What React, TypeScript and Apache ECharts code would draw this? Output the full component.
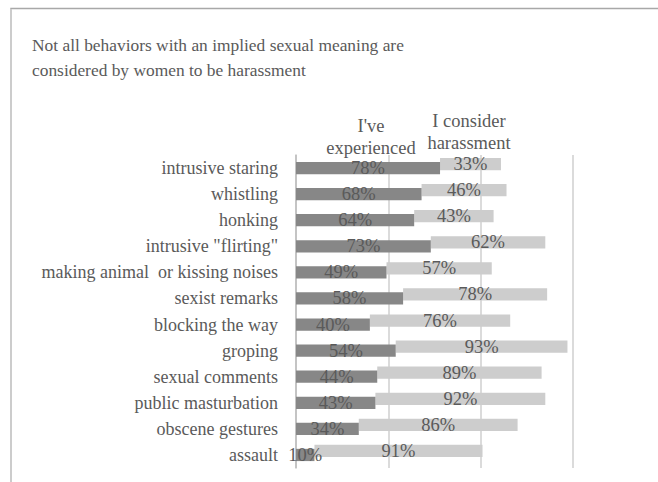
import React, { useEffect, useRef } from "react";
import * as echarts from "echarts";

const categories = [
  "intrusive staring",
  "whistling",
  "honking",
  "intrusive \"flirting\"",
  "making animal  or kissing noises",
  "sexist remarks",
  "blocking the way",
  "groping",
  "sexual comments",
  "public masturbation",
  "obscene gestures",
  "assault",
];
const experienced = [78, 68, 64, 73, 49, 58, 40, 54, 44, 43, 34, 10];
const consider = [33, 46, 43, 62, 57, 78, 76, 93, 89, 92, 86, 91];
const titleLines = [
  "Not all behaviors with an implied sexual meaning are",
  "considered by women to be harassment",
];
const seriesNames = ["I've\nexperienced", "I consider\nharassment"];

const FONT = "Liberation Serif";
const TXT = "#5a5a5a";

export default function App() {
  const ref = useRef<HTMLDivElement>(null);
  useEffect(() => {
    if (!ref.current) return;
    const chart = echarts.init(ref.current, null, { renderer: "svg" });
    const xAx = (gridIndex: number, show: boolean) => ({
      type: "value",
      gridIndex,
      min: 0,
      max: 150,
      interval: 50,
      axisLabel: { show: false },
      axisTick: { show: false },
      axisLine: { show: false },
      splitLine: { show, lineStyle: { color: "#cfcfcf", width: 1.5 } },
    });
    const yAx = (gridIndex: number, show: boolean) => ({
      type: "category",
      gridIndex,
      data: categories,
      inverse: true,
      axisTick: { show: false },
      axisLine: { show, lineStyle: { color: "#bdbdbd", width: 1.5 } },
      axisLabel: {
        show,
        fontFamily: FONT,
        fontSize: 18,
        color: TXT,
        margin: 18,
      },
    });
    const lbl = {
      show: true,
      position: "inside",
      fontFamily: FONT,
      fontSize: 18.5,
      color: TXT,
      formatter: "{c}%",
    };
    const txt = (text: string, size: number, extra: any) => ({
      type: "text",
      ...extra,
      style: {
        text,
        fontFamily: FONT,
        fontSize: size,
        fill: TXT,
        lineHeight: 22,
        ...(extra.style || {}),
      },
    });
    chart.setOption({
      animation: false,
      graphic: [
        {
          type: "rect",
          shape: { x: 11, y: 8.5, width: 700, height: 600 },
          style: { fill: "none", stroke: "#a8a8a8", lineWidth: 1.5 },
          z: 0,
        },
        {
          type: "line",
          shape: { x1: 11, y1: 9, x2: 11, y2: 482 },
          style: { stroke: "#cccccc", lineWidth: 2 },
        },
        ...titleLines.map((t, i) => txt(t, 17.4, { left: 32, top: 34 + i * 25 })),
        txt(seriesNames[0], 18.5, {
          x: 371,
          y: 137,
          style: { align: "center", verticalAlign: "middle" },
        }),
        txt(seriesNames[1], 18.5, {
          x: 469,
          y: 132,
          style: { align: "center", verticalAlign: "middle" },
        }),
      ],
      grid: [
        { left: 296, right: 85, top: 155, bottom: 14 },
        { left: 296, right: 85, top: 151, bottom: 18 },
      ],
      xAxis: [xAx(0, true), xAx(1, false)],
      yAxis: [yAx(0, true), yAx(1, false)],
      series: [
        {
          name: "I've experienced",
          type: "bar",
          xAxisIndex: 0,
          yAxisIndex: 0,
          data: experienced,
          barWidth: "47%",
          itemStyle: { color: "#878787" },
          label: lbl,
          z: 3,
        },
        {
          name: "offset",
          type: "bar",
          xAxisIndex: 1,
          yAxisIndex: 1,
          stack: "b",
          data: experienced,
          barWidth: "47%",
          itemStyle: { color: "rgba(0,0,0,0)" },
          silent: true,
          z: 1,
        },
        {
          name: "I consider harassment",
          type: "bar",
          xAxisIndex: 1,
          yAxisIndex: 1,
          stack: "b",
          data: consider,
          barWidth: "47%",
          itemStyle: { color: "#cdcdcd" },
          label: lbl,
          z: 2,
        },
      ],
    });
    return () => chart.dispose();
  }, []);
  return (
    <div
      ref={ref}
      style={{ position: "fixed", left: 0, top: 0, width: 658, height: 482, background: "#fff" }}
    />
  );
}
